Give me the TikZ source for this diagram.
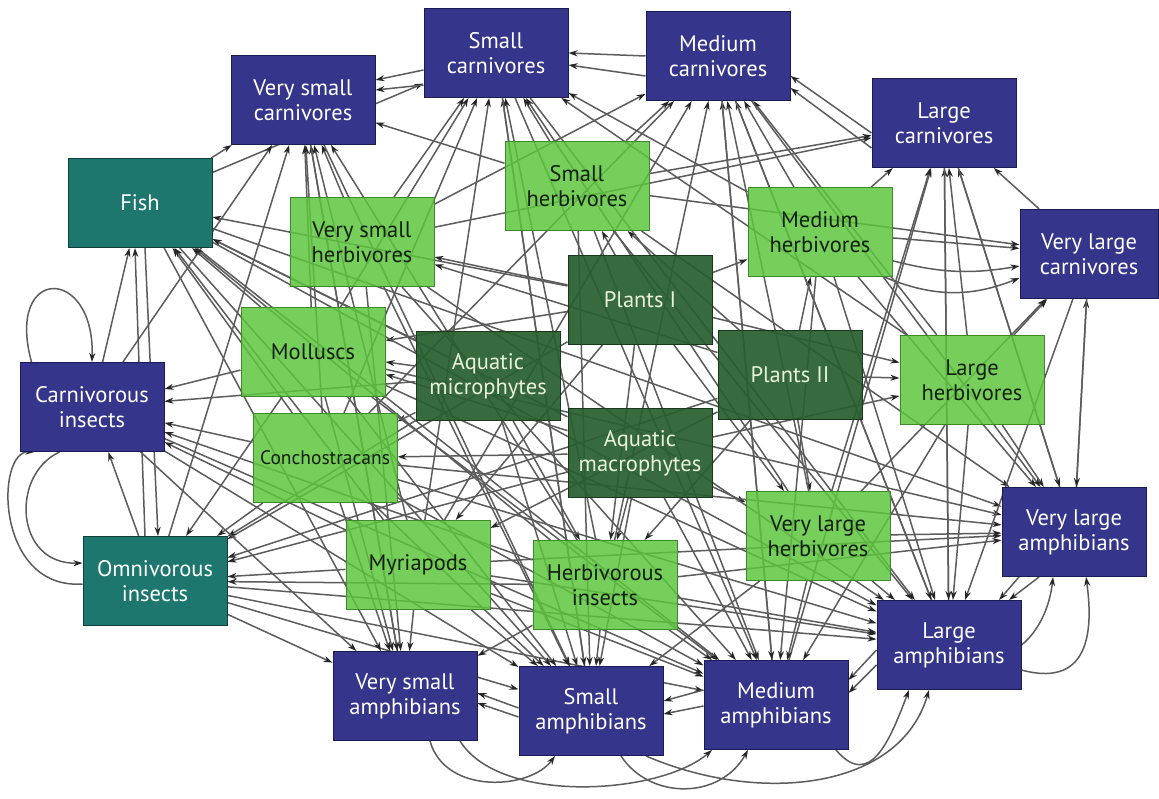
\documentclass[tikz,border=0pt]{standalone}
\usepackage{fontspec}
\setmainfont{PT Sans}
\usetikzlibrary{arrows.meta,backgrounds}
\definecolor{navyF}{HTML}{35358B}
\definecolor{navyD}{HTML}{1C1C55}
\definecolor{lgF}{HTML}{5CC53C}
\definecolor{lgD}{HTML}{3C8A2C}
\definecolor{dgF}{HTML}{285F2F}
\definecolor{dgD}{HTML}{163A1A}
\definecolor{tlF}{HTML}{1D776F}
\definecolor{tlD}{HTML}{0E403B}
\definecolor{edgeC}{HTML}{5C5C5C}
\definecolor{cream}{HTML}{E8F2D6}
\definecolor{darkT}{HTML}{14200E}
\begin{document}
\begin{tikzpicture}[x=1pt,y=-1pt,
  box/.style={rectangle, minimum width=144pt, minimum height=89pt, inner sep=2pt, align=center,
    line width=1pt, font=\fontsize{22.5}{25}\selectfont},
  pred/.style={box, fill=navyF, draw=navyD, text=white},
  herb/.style={box, fill=lgF, fill opacity=0.84, draw=lgD, text opacity=1, text=darkT},
  prod/.style={box, fill=dgF, fill opacity=0.93, draw=dgD, text opacity=1, text=cream},
  omni/.style={box, fill=tlF, draw=tlD, text=white},
  edge/.style={draw=edgeC, line width=1.5pt, -{Stealth[length=9pt,width=6pt,color=black!85]}}]
\useasboundingbox (0,0) rectangle (1159,799);

\node[pred] (SC) at (496,53) {Small\\carnivores};
\node[pred] (MC) at (718,56) {Medium\\carnivores};
\node[pred] (VSC) at (303,100) {Very small\\carnivores};
\node[pred] (LC) at (944,123) {Large\\carnivores};
\node[pred, minimum width=138pt] (VLC) at (1089,254) {Very large\\carnivores};
\node[omni] (Fish) at (140,203) {Fish};
\node[herb] (SH) at (577,186) {Small\\herbivores};
\node[herb] (VSH) at (362,242) {Very small\\herbivores};
\node[herb] (MH) at (820,232) {Medium\\herbivores};
\node[prod] (P1) at (640,300) {Plants I};
\node[herb] (Mol) at (313,352) {Molluscs};
\node[prod] (AMi) at (488,376) {Aquatic\\microphytes};
\node[prod] (P2) at (790,375) {Plants II};
\node[herb] (LH) at (972,380) {Large\\herbivores};
\node[pred] (CI) at (92,407) {Carnivorous\\insects};
\node[herb, font=\fontsize{19.5}{22}\selectfont, inner sep=0pt] (Con) at (325,458) {Conchostracans};
\node[prod] (AMa) at (640,453) {Aquatic\\macrophytes};
\node[herb] (VLH) at (818,536) {Very large\\herbivores};
\node[pred] (VLA) at (1074,532) {Very large\\amphibians};
\node[omni] (OI) at (155,581) {Omnivorous\\insects};
\node[herb] (Myr) at (418,565) {Myriapods};
\node[herb] (HI) at (605,585) {Herbivorous\\insects};
\node[pred] (LA) at (949,645) {Large\\amphibians};
\node[pred] (VSA) at (405,696) {Very small\\amphibians};
\node[pred] (SA) at (591,711) {Small\\amphibians};
\node[pred] (MA) at (776,705) {Medium\\amphibians};

\begin{pgfonlayer}{background}
\fill[white] (0,0) rectangle (1159,799);
% producers to consumers
\foreach \s/\t in {P1/VSH,P1/SH,P1/MH,P1/LH,P1/VLH,P1/HI,P1/Myr,P1/OI,P1/Mol,P1/Fish,
  P2/VSH,P2/SH,P2/MH,P2/LH,P2/VLH,P2/HI,P2/Myr,P2/OI,
  AMi/Mol,AMi/Con,AMi/Fish,AMi/OI,AMi/HI,AMi/CI,AMi/SA,
  AMa/Mol,AMa/Con,AMa/Fish,AMa/OI,AMa/HI,AMa/VLH,AMa/LH,AMa/SA,AMa/MA}
  \draw[edge] (\s) -- (\t);
% consumers to carnivores
\foreach \s/\t in {VSH/VSC,VSH/SC,VSH/MC,VSH/LC,
  SH/VSC,SH/SC,SH/MC,SH/LC,SH/VLC,
  MH/SC,MH/MC,MH/LC,MH/VLC,
  LH/MC,LH/LC,LH/VLC,LH/SC,
  VLH/LC,VLH/VLC,VLH/MC,VLH/SC,
  Mol/VSC,Mol/SC,Con/VSC,Con/SC,Myr/VSC,Myr/SC,HI/VSC,HI/SC,HI/MC,
  Fish/VSC,Fish/SC,CI/VSC,OI/VSC,Myr/MC,Con/MC,
  VLA/LC,VLA/VLC,LA/LC,LA/MC,MA/MC,MA/LC,SA/SC,VSA/VSC,VLC/LC}
  \draw[edge] (\s) -- (\t);
\draw[edge] (MH) to[bend right=12] ([yshift=-12pt]VLC.west);
\draw[edge] (MH) to[bend right=22] ([yshift=-24pt]VLC.west);
% consumers to amphibians
\foreach \s/\t in {CI/VSA,CI/SA,CI/MA,OI/VSA,OI/SA,OI/MA,OI/LA,
  Myr/VSA,Myr/SA,Myr/MA,Myr/LA,Myr/VLA,
  HI/VSA,HI/SA,HI/MA,HI/LA,HI/VLA,
  Mol/VSA,Mol/SA,Mol/MA,Mol/LA,Mol/VLA,
  Con/VSA,Con/SA,Con/MA,Con/LA,Con/VLA,
  Fish/VSA,Fish/SA,Fish/MA,Fish/LA,Fish/VLA,
  VSH/VSA,VSH/SA,VSH/MA,VSH/LA,
  SH/SA,SH/MA,SH/LA,SH/VLA,
  MH/MA,MH/LA,MH/VLA,
  LH/LA,LH/VLA,LH/MA,
  VLH/LA,VLH/VLA,VLH/MA,VLH/SA,
  VSC/VSA,VSC/SA,SC/SA,SC/MA,MC/MA,MC/LA,LC/LA,LC/VLA,VLC/VLA,VLC/LA,MC/VLA,SC/LA}
  \draw[edge] (\s) -- (\t);
% insects, fish
\foreach \s/\t in {Mol/Fish,Con/Fish,Myr/Fish,HI/Fish,CI/Fish,
  Con/CI,Con/OI,Myr/OI,HI/OI,Mol/OI,HI/CI,Myr/CI,Mol/CI,OI/CI}
  \draw[edge] (\s) -- (\t);
\draw[edge] ([xshift=-10pt]OI.north) -- ([xshift=-5pt]Fish.south);
\draw[edge] ([xshift=5pt]Fish.south) -- ([xshift=3pt]OI.north);
% parallel pairs
\draw[edge] ([yshift=-17pt]SC.west) -- ([yshift=20pt]VSC.east);
\draw[edge] ([yshift=-32pt]SC.west) -- ([yshift=10pt]VSC.east);
\draw[edge] ([yshift=0pt]MC.west) -- ([yshift=0pt]SC.east);
\draw[edge] ([yshift=-20pt]MC.west) -- ([yshift=-12pt]SC.east);
\draw[edge] ([yshift=-10pt]LC.west) -- ([yshift=-20pt]MC.east);
\draw[edge] ([yshift=-25pt]LC.west) -- ([yshift=-32pt]MC.east);
\draw[edge] ([yshift=3pt]SA.west) -- ([yshift=3pt]VSA.east);
\draw[edge] ([yshift=-6pt]SA.west) -- ([yshift=-7pt]VSA.east);
\draw[edge] ([yshift=15pt]MA.west) -- ([yshift=10pt]SA.east);
\draw[edge] ([yshift=-1pt]MA.west) -- ([yshift=-3pt]SA.east);
\draw[edge] ([yshift=-5pt]LA.west) -- ([yshift=25pt]MA.east);
\draw[edge] ([yshift=-20pt]LA.west) -- ([yshift=12pt]MA.east);
\draw[edge] ([xshift=-55pt]VLA.south) -- ([xshift=50pt]LA.north);
\draw[edge] ([xshift=-35pt]VLA.south) -- ([xshift=60pt]LA.north);
% bottom arcs
\draw[edge] ([xshift=25pt]VSA.south) .. controls (445,795) and (530,790) .. ([xshift=-36pt]SA.south);
\draw[edge] ([xshift=55pt]VSA.south) .. controls (500,805) and (660,795) .. ([xshift=-64pt]MA.south);
\draw[edge] ([xshift=30pt]SA.south) .. controls (650,800) and (720,800) .. ([xshift=-28pt]MA.south);
\draw[edge] ([xshift=55pt]SA.south) .. controls (760,805) and (900,790) .. ([xshift=-20pt]LA.south);
\draw[edge] ([xshift=60pt]MA.south) .. controls (870,790) and (890,740) .. ([xshift=-40pt]LA.south);
% right arcs
\draw[edge] (LA.east) .. controls (1040,630) and (1050,605) .. ([xshift=-21pt]VLA.south);
\draw[edge] ([yshift=-25pt]LA.east) .. controls (1095,690) and (1092,620) .. ([xshift=12pt]VLA.south);
% left loops
\draw[edge] ([xshift=12pt]CI.north west) .. controls (5,265) and (95,265) .. (CI.north);
\draw[edge] ([xshift=40pt]CI.south west) .. controls (10,475) and (15,565) .. ([yshift=18pt]OI.west);
\draw[edge] ([yshift=-3pt]OI.west) .. controls (-5,590) and (-5,450) .. ([xshift=15pt]CI.south west);
\end{pgfonlayer}
\end{tikzpicture}
\end{document}
